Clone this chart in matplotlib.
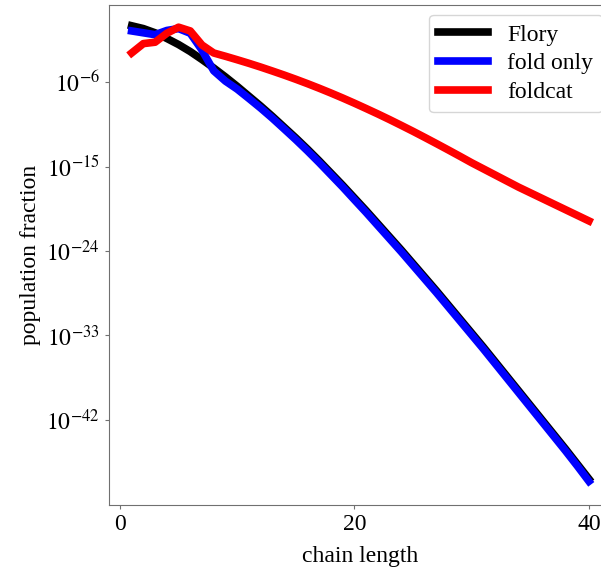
import numpy as np
import matplotlib
matplotlib.use('Agg')
import matplotlib.pyplot as plt

#serif fonts, Times-like
plt.rcParams['font.family'] = 'serif'
plt.rcParams['font.serif'] = ['Liberation Serif', 'DejaVu Serif']
plt.rcParams['mathtext.fontset'] = 'stix'

#chain lengths 1..40
n = np.arange(1, 41)

#log10 of population fraction
flory_log = [0.0, -0.3, -0.75, -1.35, -2.0, -2.75, -3.6, -4.5, -5.45, -6.45,
             -7.5, -8.55, -9.65, -10.8, -11.95, -13.15, -14.4, -15.7, -17.0, -18.35,
             -19.7, -21.1, -22.5, -23.9, -25.35, -26.8, -28.25, -29.75, -31.25, -32.75,
             -34.25, -35.8, -37.35, -38.9, -40.45, -42.0, -43.55, -45.1, -46.7, -48.3]

fold_log = [-0.55, -0.75, -0.95, -0.5, -0.3, -0.8, -2.6, -4.8, -5.9, -6.75,
            -7.75, -8.77, -9.85, -10.99, -12.14, -13.34, -14.59, -15.89, -17.19, -18.55,
            -19.9, -21.3, -22.7, -24.1, -25.55, -27.0, -28.45, -29.95, -31.45, -32.95,
            -34.45, -36.0, -37.55, -39.1, -40.65, -42.2, -43.75, -45.3, -46.9, -48.55]

foldcat_log = [-2.9, -1.9, -1.75, -0.8, -0.15, -0.55, -2.05, -2.9, -3.25, -3.62,
               -4.0, -4.4, -4.82, -5.25, -5.7, -6.17, -6.66, -7.17, -7.7, -8.25,
               -8.82, -9.4, -10.0, -10.62, -11.25, -11.9, -12.56, -13.23, -13.91, -14.6,
               -15.25, -15.9, -16.55, -17.2, -17.8, -18.4, -19.0, -19.6, -20.2, -20.8]

yticks = [1e-6, 1e-15, 1e-24, 1e-33, 1e-42]
yticklabels = [r'$10^{-6}$', r'$10^{-15}$', r'$10^{-24}$', r'$10^{-33}$', r'$10^{-42}$']
xticks = [0, 20, 40]

fig = plt.figure(figsize=(6.01, 5.71), dpi=100)
#the picture is cut on the right, so the axes run past the figure edge
ax = fig.add_axes([0.181, 0.116, 0.837, 0.875])

ax.plot(n, 10.0**np.array(flory_log), color='black', lw=5.5, label='Flory')
ax.plot(n, 10.0**np.array(fold_log), color='blue', lw=5.5, label='fold only')
ax.plot(n, 10.0**np.array(foldcat_log), color='red', lw=5.5, label='foldcat')

ax.set_yscale('log')
ax.set_xlim(-0.95, 41.95)
ax.set_ylim(10**-51.05, 10**2.2)
ax.set_yticks(yticks)
ax.set_yticklabels(yticklabels)
ax.yaxis.set_minor_locator(matplotlib.ticker.NullLocator())
ax.set_xticks(xticks)
ax.tick_params(labelsize=17, color='#707070', length=3)

for s in ax.spines.values():
    s.set_color('#707070')

ax.set_xlabel('chain length', fontsize=17, labelpad=8)
ax.set_ylabel('population fraction', fontsize=17)
ax.legend(loc='upper right', fontsize=17, handlelength=2.1, edgecolor='#cccccc',
          borderaxespad=0.4, labelspacing=0.3)

plt.savefig('out.png', dpi=100)
plt.close()
